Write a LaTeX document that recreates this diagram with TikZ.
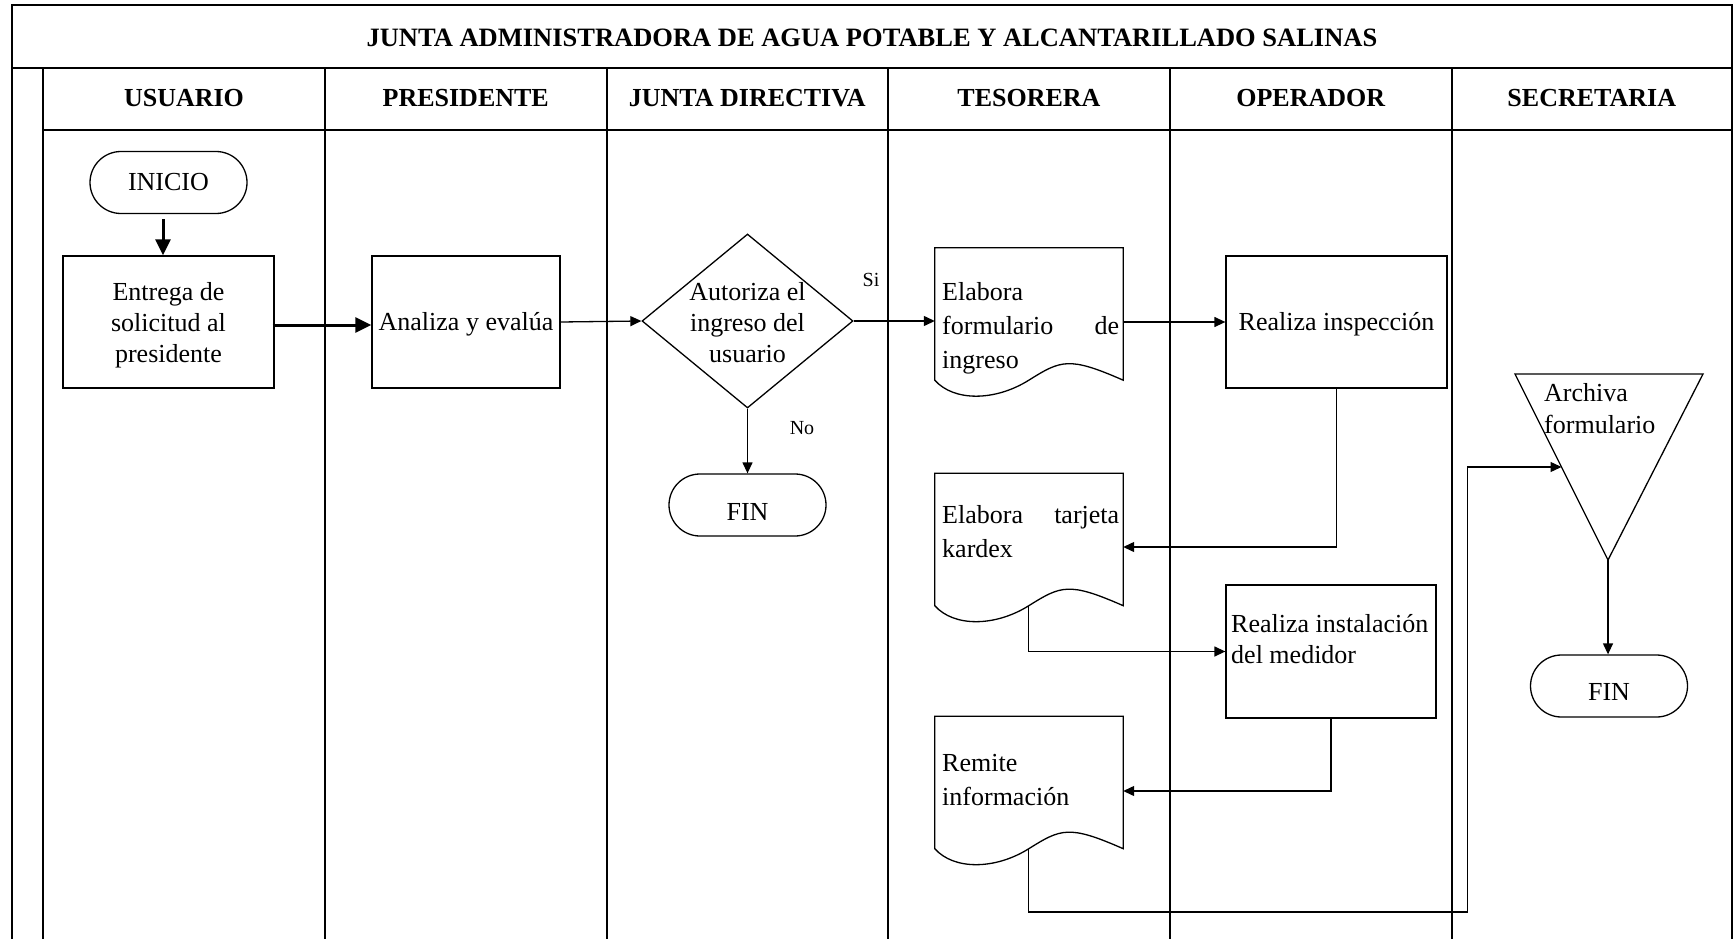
\documentclass[tikz,border=0pt]{standalone}
\usepackage{fontspec}
\setmainfont{Liberation Serif}
\usetikzlibrary{arrows.meta,calc,shapes.geometric}

\tikzset{
  frame/.style={line width=2pt},
  shp/.style={draw, line width=1.3pt},
  proc/.style={shp, rectangle, inner sep=0pt},
  term/.style={shp, rectangle, rounded corners=31pt, inner sep=0pt,
               minimum width=157pt, minimum height=62pt},
  body/.style={font=\fontsize{26}{31}\selectfont, inner sep=0pt},
  doctext/.style={font=\fontsize{26}{34}\selectfont, inner sep=0pt, align=left},
  hdr/.style={font=\bfseries\fontsize{26}{30}\selectfont, inner sep=0pt},
  ttl/.style={font=\bfseries\fontsize{26.5}{30}\selectfont, inner sep=0pt},
  lbl/.style={font=\fontsize{20}{24}\selectfont, inner sep=0pt},
  docbox/.style={rectangle, inner sep=0pt, minimum width=188pt, minimum height=132pt},
  link/.style={line width=1.3pt},
  flow/.style={line width=1.3pt, -{Triangle[length=11pt,width=10pt]}},
  bigflow/.style={line width=3pt, -{Triangle[length=16pt,width=15pt]}},
}

\begin{document}
\begin{tikzpicture}[x=1pt,y=-1pt]
\useasboundingbox (0,0) rectangle (1735,939);

% swimlane frame
\draw[frame] (11.5,939) -- (11.5,5) -- (1732,5) -- (1732,939);
\draw[frame] (11.5,68) -- (1732,68);
\draw[frame] (43,130) -- (1732,130);
\foreach \x in {43,325,606.5,888,1170,1451.5}
  \draw[frame] (\x,68) -- (\x,939);

\node[ttl] (title) at (872,37.5) {JUNTA ADMINISTRADORA DE AGUA POTABLE Y ALCANTARILLADO SALINAS};
\node[hdr] (h1) at (184,98) {USUARIO};
\node[hdr] (h2) at (465.75,98) {PRESIDENTE};
\node[hdr] (h3) at (747.25,98) {JUNTA DIRECTIVA};
\node[hdr] (h4) at (1029,98) {TESORERA};
\node[hdr] (h5) at (1310.75,98) {OPERADOR};
\node[hdr] (h6) at (1591.75,98) {SECRETARIA};

% usuario / presidente
\node[term,body] (inicio) at (168.5,182.5) {INICIO};
\node[proc,minimum width=211pt,minimum height=132pt] (entrega) at (168.5,322) {};
\node[body,align=center] (entregat) at (168.5,325) {Entrega de\\solicitud al\\presidente};
\node[proc,minimum width=188pt,minimum height=132pt] (analiza) at (466,322) {};
\node[body] (analizat) at (466,324) {Analiza y evalúa};

% junta directiva
\node[shp,diamond,minimum width=211pt,minimum height=174pt,inner sep=0pt] (dec) at (747.5,321) {};
\node[body,align=center] (dect) at (747.5,322.5) {Autoriza el\\ingreso del\\usuario};
\node[term] (fin1) at (747.5,505) {};
\node[body] (fin1t) at (747.5,511.5) {FIN};
\node[lbl] (si) at (871,280) {Si};
\node[lbl] (no) at (802,428) {No};

% tesorera: documents
\node[docbox] (doc1) at (1029,314) {};
\node[docbox] (doc2) at (1029,539.5) {};
\node[docbox] (doc3) at (1029,782.5) {};
\foreach \d in {doc1,doc2,doc3} {
  \draw[link] (\d.south west) -- (\d.north west) -- (\d.north east) -- (\d.south east)
    .. controls ($(\d.south west)+(134,-24)$) and ($(\d.south west)+(126,-20)$) .. ($(\d.south west)+(94,0)$)
    .. controls ($(\d.south west)+(60,21.3)$) and ($(\d.south west)+(18.8,21.3)$) .. (\d.south west) -- cycle;
}
\node[doctext,anchor=west] (doc1t) at (942,328) {Elabora\\\hbox to 177pt{formulario\hfill de}\\ingreso};
\node[doctext,anchor=west] (doc2t) at (942,532) {\hbox to 177pt{Elabora\hfill tarjeta}\\kardex};
\node[doctext,anchor=west] (doc3t) at (942,780.5) {Remite\\información};

% operador
\node[proc,minimum width=221pt,minimum height=132pt] (insp) at (1336.5,322) {};
\node[body] (inspt) at (1336.5,324) {Realiza inspección};
\node[proc,minimum width=210pt,minimum height=133pt] (inst) at (1331,651.5) {};
\node[body,align=left,anchor=west] (instt) at (1231,639.5) {Realiza instalación\\del medidor};

% secretaria
\coordinate (trA) at (1515,374);
\coordinate (trB) at (1703,374);
\coordinate (trC) at (1608,560);
\draw[link] (trA) -- (trB) -- (trC) -- cycle;
\node[doctext,anchor=west,font=\fontsize{26}{32}\selectfont] (archt) at (1544,408.5) {Archiva\\formulario};
\node[term] (fin2) at (1609,686) {};
\node[body] (fin2t) at (1609,692) {FIN};

% connectors
\draw[bigflow] ([xshift=-5.5pt,yshift=-5pt]inicio.south) -- ([xshift=-5.5pt]entrega.north);
\draw[bigflow] ([xshift=-2pt,yshift=-3pt]entrega.east) -- ([yshift=-3pt]analiza.west);
\draw[flow] (analiza.east) -- (dec.west);
\draw[flow] (dec.east) -- (dec.east -| doc1.west);
\draw[flow] (dec.south) -- (fin1.north);
\draw[flow] (doc1.east |- insp.west) -- (insp.west);
\draw[flow] (insp.south) |- ([yshift=-7.5pt]doc2.east);
\coordinate (doc2b) at ($(doc2.south west)+(94,0)$);
\draw[flow] (doc2b) |- (inst.west);
\draw[flow] (inst.south) |- ([yshift=-8.5pt]doc3.east);
\coordinate (doc3b) at ($(doc3.south west)+(94,0)$);
\coordinate (bend) at (1467.5,912);
\coordinate (trin) at ($(trA)!0.5!(trC)$);
\draw[flow] (doc3b) |- (bend) |- (trin);
\draw[flow] (trC) -- (trC |- fin2.north);
\end{tikzpicture}
\end{document}
